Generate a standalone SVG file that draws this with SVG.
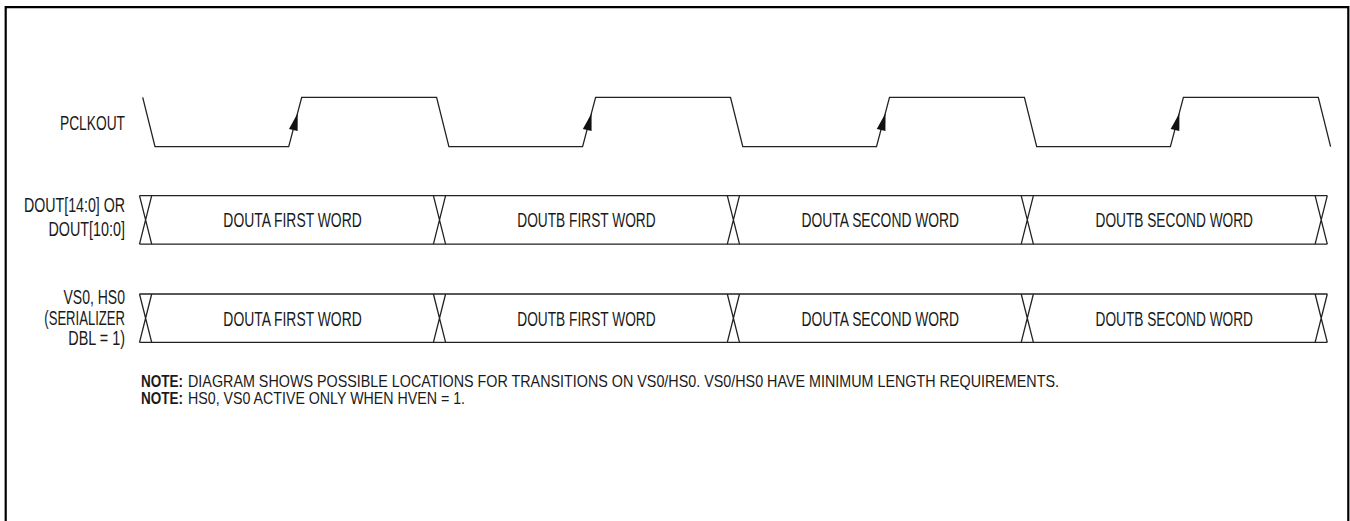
<svg xmlns="http://www.w3.org/2000/svg" width="1350" height="521" viewBox="0 0 1350 521">
<style>
  .frame{fill:none;stroke:#000;stroke-width:2.2}
  .wave{fill:none;stroke:#222;stroke-width:1.3;stroke-linejoin:miter}
  .arrow{fill:#111;stroke:none}
  .t{font-family:"Liberation Sans",Arial,sans-serif;font-size:19.5px;fill:#1a1a1a}
  .n{font-family:"Liberation Sans",Arial,sans-serif;font-size:16.5px;fill:#1a1a1a}
  .b{font-weight:bold}
</style>
<defs>
  <path id="arr" class="arrow" d="M8.8,113.3 L8.75,131.1 L0.05,128.9 Z"/>
  <path id="cross" class="wave" d="M-6.1,0 L6.1,48.4 M6.1,0 L-6.1,48.4"/>
</defs>
<rect width="1350" height="521" fill="#fff"/>
<path class="frame" d="M5.7,521 V7.2 H1348.3 V521"/>

<g id="pclkout">
  <text class="t" x="60" y="130" textLength="65" lengthAdjust="spacingAndGlyphs">PCLKOUT</text>
  <path class="wave" d="M142.7,97.3 L155,146.7 H288.7 L301.7,97.3 H436.6 L448.9,146.7 H582.6 L595.6,97.3 H730.5 L742.8,146.7 H876.5 L889.5,97.3 H1024.4 L1036.7,146.7 H1170.4 L1183.4,97.3 H1318.3 L1330.6,146.7"/>
  <use href="#arr" x="288.9"/>
  <use href="#arr" x="582.8"/>
  <use href="#arr" x="876.7"/>
  <use href="#arr" x="1170.6"/>
</g>

<g id="dout">
  <text class="t" x="24" y="212.3" textLength="101" lengthAdjust="spacingAndGlyphs">DOUT[14:0] OR</text>
  <text class="t" x="48.5" y="235.7" textLength="76.5" lengthAdjust="spacingAndGlyphs">DOUT[10:0]</text>
  <path class="wave" d="M139.5,195.7 H1327.3 M139.5,244.1 H1327.3"/>
  <use href="#cross" x="145.6" y="195.7"/>
  <use href="#cross" x="439.5" y="195.7"/>
  <use href="#cross" x="733.4" y="195.7"/>
  <use href="#cross" x="1027.3" y="195.7"/>
  <use href="#cross" x="1321.2" y="195.7"/>
  <text class="t" x="223.35" y="227.3" textLength="138.4" lengthAdjust="spacingAndGlyphs">DOUTA FIRST WORD</text>
  <text class="t" x="517.25" y="227.3" textLength="138.4" lengthAdjust="spacingAndGlyphs">DOUTB FIRST WORD</text>
  <text class="t" x="801.6" y="227.3" textLength="157.5" lengthAdjust="spacingAndGlyphs">DOUTA SECOND WORD</text>
  <text class="t" x="1095.5" y="227.3" textLength="157.5" lengthAdjust="spacingAndGlyphs">DOUTB SECOND WORD</text>
</g>

<g id="vs0hs0">
  <text class="t" x="63.5" y="303.5" textLength="61.5" lengthAdjust="spacingAndGlyphs">VS0, HS0</text>
  <text class="t" x="44.3" y="324.5" textLength="80.7" lengthAdjust="spacingAndGlyphs">(SERIALIZER</text>
  <text class="t" x="68.3" y="345" textLength="56.7" lengthAdjust="spacingAndGlyphs">DBL = 1)</text>
  <path class="wave" d="M139.5,294 H1327.3 M139.5,342.4 H1327.3"/>
  <use href="#cross" x="145.6" y="294"/>
  <use href="#cross" x="439.5" y="294"/>
  <use href="#cross" x="733.4" y="294"/>
  <use href="#cross" x="1027.3" y="294"/>
  <use href="#cross" x="1321.2" y="294"/>
  <text class="t" x="223.35" y="325.6" textLength="138.4" lengthAdjust="spacingAndGlyphs">DOUTA FIRST WORD</text>
  <text class="t" x="517.25" y="325.6" textLength="138.4" lengthAdjust="spacingAndGlyphs">DOUTB FIRST WORD</text>
  <text class="t" x="801.6" y="325.6" textLength="157.5" lengthAdjust="spacingAndGlyphs">DOUTA SECOND WORD</text>
  <text class="t" x="1095.5" y="325.6" textLength="157.5" lengthAdjust="spacingAndGlyphs">DOUTB SECOND WORD</text>
</g>

<g id="notes">
  <text class="n b" x="141" y="387" textLength="42" lengthAdjust="spacingAndGlyphs">NOTE:</text>
  <text class="n" x="188" y="387" textLength="871" lengthAdjust="spacingAndGlyphs">DIAGRAM SHOWS POSSIBLE LOCATIONS FOR TRANSITIONS ON VS0/HS0. VS0/HS0 HAVE MINIMUM LENGTH REQUIREMENTS.</text>
  <text class="n b" x="141" y="403.5" textLength="42" lengthAdjust="spacingAndGlyphs">NOTE:</text>
  <text class="n" x="188" y="403.5" textLength="277" lengthAdjust="spacingAndGlyphs">HS0, VS0 ACTIVE ONLY WHEN HVEN = 1.</text>
</g>
</svg>
